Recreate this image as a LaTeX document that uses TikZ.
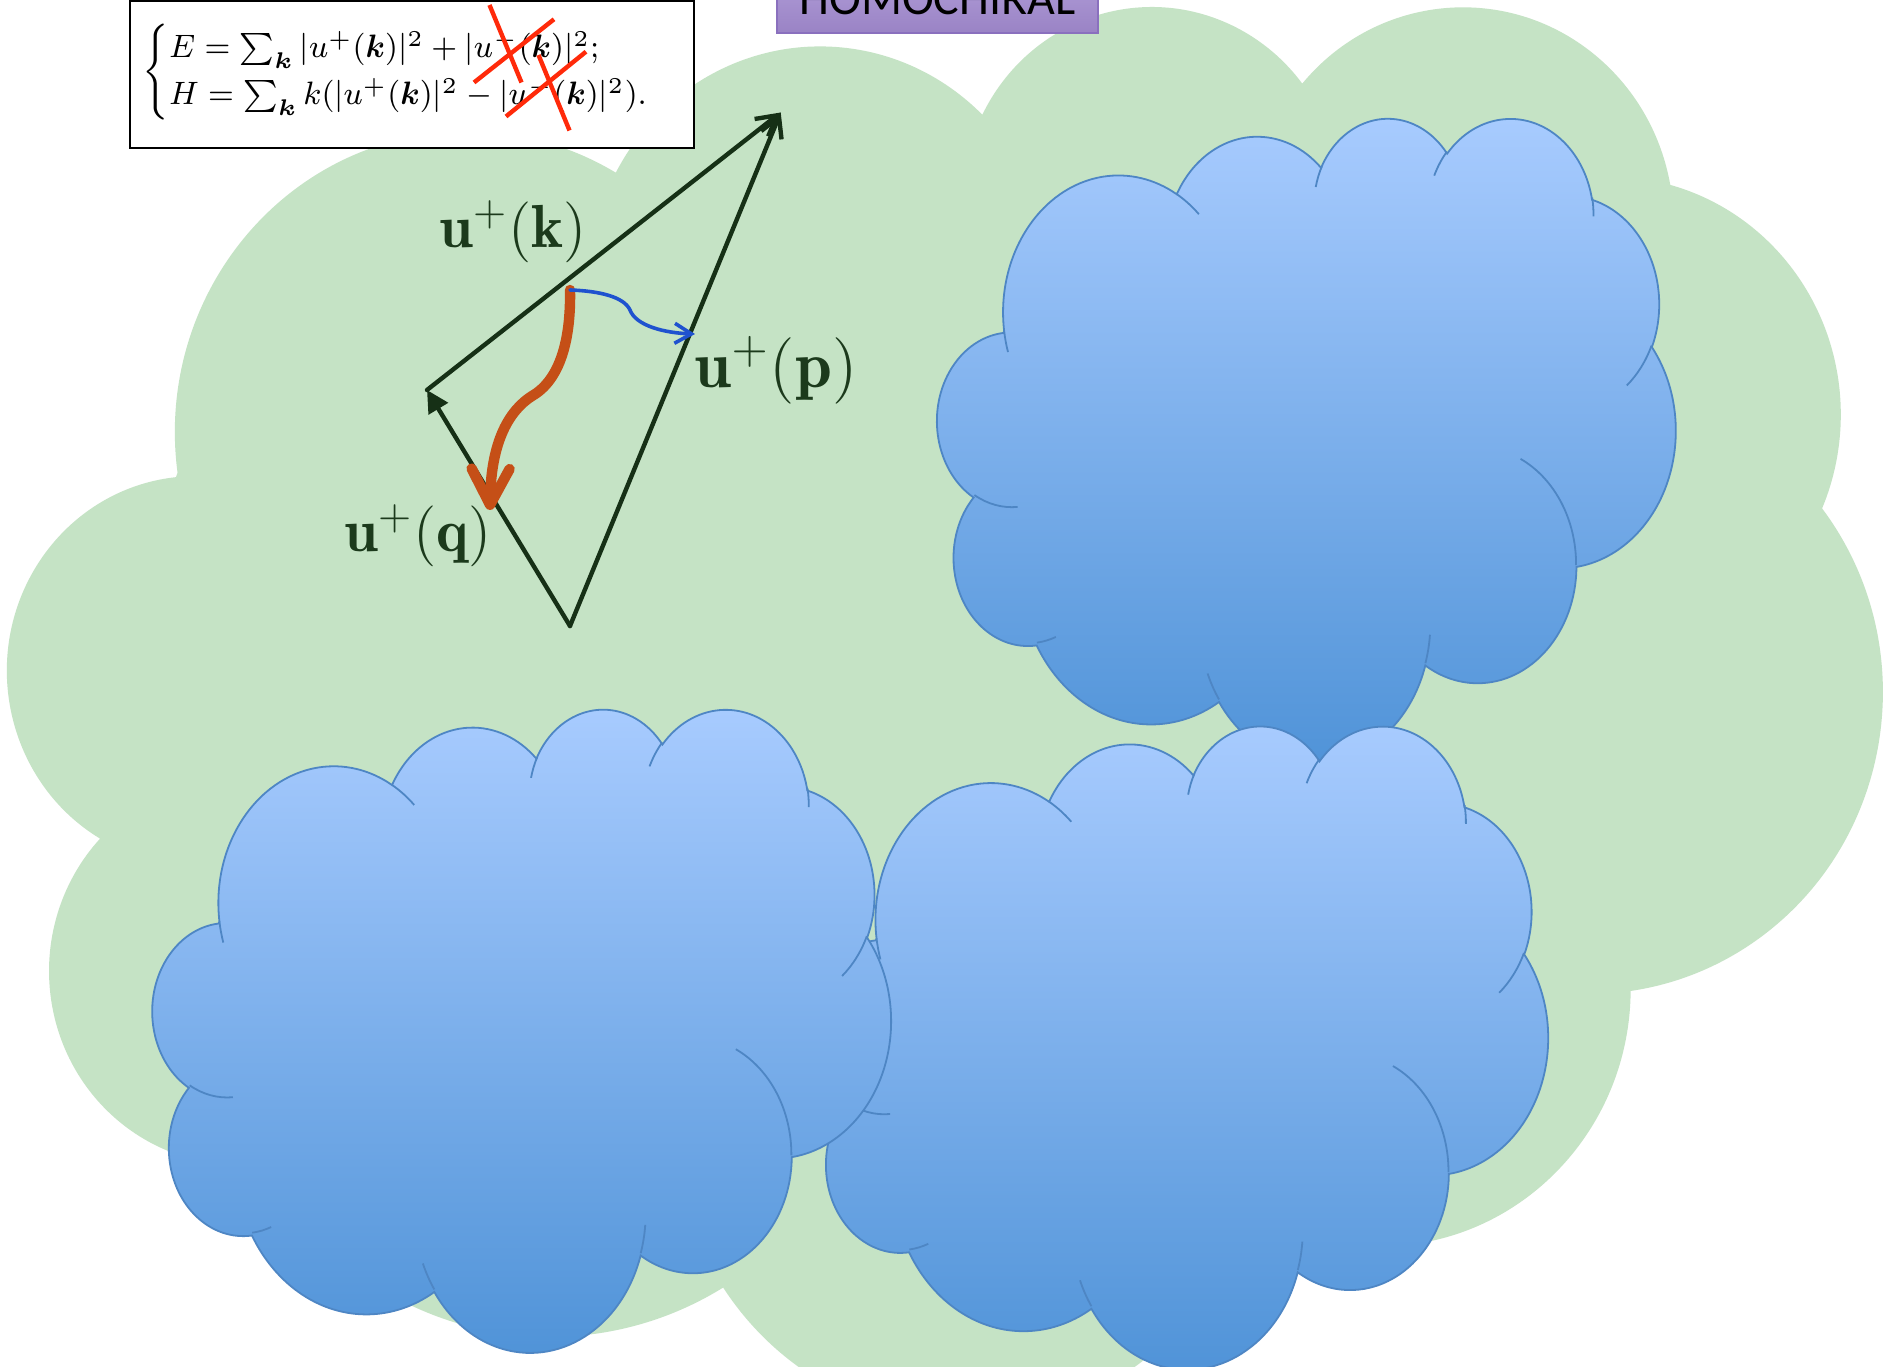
\RequirePackage{fix-cm}
\documentclass[tikz,border=0pt]{standalone}
\usepackage{amsmath}
\usepackage{fontspec}
\newfontfamily\carlito{Carlito}
\usetikzlibrary{arrows.meta}

\definecolor{cGreen}{HTML}{C5E3C5}
\definecolor{cTop}{HTML}{A9CCFF}
\definecolor{cBot}{HTML}{4E92D7}
\definecolor{cOut}{HTML}{4E86C4}
\definecolor{triC}{HTML}{163016}
\definecolor{labC}{HTML}{1C3A1C}
\definecolor{blueA}{HTML}{1F52CF}
\definecolor{orangeA}{HTML}{C54F17}
\definecolor{redC}{HTML}{FF2A0A}
\definecolor{purTop}{HTML}{B7A5DE}
\definecolor{purBot}{HTML}{9A83C5}
\definecolor{purLine}{HTML}{8A70BE}

% DrawingML arcTo: convert visual angles to parametric angles
\newcommand\mkarc[5]{%
  \pgfmathsetmacro\tmpS{atan2((#2)*sin(#4),(#3)*cos(#4))}%
  \pgfmathsetmacro\tmpE{atan2((#2)*sin((#4)+(#5)),(#3)*cos((#4)+(#5)))}%
  \pgfmathsetmacro\tmpD{\tmpE-\tmpS}%
  \pgfmathsetmacro\tmpD{\tmpD<0?\tmpD+360:\tmpD}%
  \expandafter\xdef\csname cS#1\endcsname{\tmpS}%
  \expandafter\xdef\csname cD#1\endcsname{\tmpD}%
}
\mkarc{A}{67.53}{91.90}{-190.4875}{123.7805}
\mkarc{B}{53.33}{72.67}{-144.1024}{89.9452}
\mkarc{C}{43.65}{59.45}{-145.8079}{99.7230}
\mkarc{D}{48.57}{65.95}{-130.9861}{117.2417}
\mkarc{E}{53.33}{72.73}{-78.7089}{109.0269}
\mkarc{F}{67.75}{92.20}{-46.2673}{130.2690}
\mkarc{G}{57.85}{78.67}{0.6250}{114.0333}
\mkarc{H}{67.52}{92.15}{22.4516}{115.1726}
\mkarc{I}{77.20}{105.43}{66.2426}{75.7110}
\mkarc{J}{43.60}{59.18}{-274.9421}{146.7356}
\mkarc{K}{43.45}{59.45}{-246.8285}{152.5189}
\mkarc{a}{43.45}{59.45}{86.7420}{26.4295}
\mkarc{b}{43.60}{59.18}{73.6105}{11.4475}
\mkarc{c}{67.52}{92.15}{137.6242}{14.0811}
\mkarc{d}{67.52}{92.15}{6.4533}{15.9984}
\mkarc{e}{57.85}{78.67}{-70.2924}{70.9174}
\mkarc{f}{53.33}{72.73}{30.3180}{27.7515}
\mkarc{g}{48.57}{65.95}{-13.7443}{14.8620}
\mkarc{h}{48.57}{65.95}{-149.1815}{18.1970}
\mkarc{i}{43.65}{59.45}{-163.4943}{17.6999}
\mkarc{j}{67.53}{91.90}{-66.7070}{12.3194}
\mkarc{k}{67.53}{91.90}{157.6544}{11.8582}

% #1 outline/fill options, #2 inner arc options, #3 left, #4 top, #5 width, #6 height (pixels)
\newcommand\pptcloud[6]{%
  \pgfmathsetmacro\cux{(#5)*0.25/432}%
  \pgfmathsetmacro\cuy{(#6)*0.25/432}%
  \begin{scope}[shift={(#3,#4)},x=\cux pt,y=-\cuy pt]
    \path[#1] (39.00,143.70)
      arc[x radius=67.53,y radius=91.90,start angle=\cSA,delta angle=\cDA]
      arc[x radius=53.33,y radius=72.67,start angle=\cSB,delta angle=\cDB]
      arc[x radius=43.65,y radius=59.45,start angle=\cSC,delta angle=\cDC]
      arc[x radius=48.57,y radius=65.95,start angle=\cSD,delta angle=\cDD]
      arc[x radius=53.33,y radius=72.73,start angle=\cSE,delta angle=\cDE]
      arc[x radius=67.75,y radius=92.20,start angle=\cSF,delta angle=\cDF]
      arc[x radius=57.85,y radius=78.67,start angle=\cSG,delta angle=\cDG]
      arc[x radius=67.52,y radius=92.15,start angle=\cSH,delta angle=\cDH]
      arc[x radius=77.20,y radius=105.43,start angle=\cSI,delta angle=\cDI]
      arc[x radius=43.60,y radius=59.18,start angle=\cSJ,delta angle=\cDJ]
      arc[x radius=43.45,y radius=59.45,start angle=\cSK,delta angle=\cDK]
      -- cycle;
    \path[#2]
      (46.93,261.77) arc[x radius=43.45,y radius=59.45,start angle=\cSa,delta angle=\cDa]
      (69.28,348.99) arc[x radius=43.60,y radius=59.18,start angle=\cSb,delta angle=\cDb]
      (164.78,390.90) arc[x radius=67.52,y radius=92.15,start angle=\cSc,delta angle=\cDc]
      (288.27,347.51) arc[x radius=67.52,y radius=92.15,start angle=\cSd,delta angle=\cDd]
      (341.29,229.54) arc[x radius=57.85,y radius=78.67,start angle=\cSe,delta angle=\cDe]
      (417.98,153.54) arc[x radius=53.33,y radius=72.73,start angle=\cSf,delta angle=\cDf]
      (383.24,54.26) arc[x radius=48.57,y radius=65.95,start angle=\cSg,delta angle=\cDg]
      (290.78,39.52) arc[x radius=48.57,y radius=65.95,start angle=\cSh,delta angle=\cDh]
      (221.41,47.20) arc[x radius=43.65,y radius=59.45,start angle=\cSi,delta angle=\cDi]
      (140.00,51.92) arc[x radius=67.53,y radius=91.90,start angle=\cSj,delta angle=\cDj]
      (41.27,157.89) arc[x radius=67.53,y radius=91.90,start angle=\cSk,delta angle=\cDk];
  \end{scope}}

\tikzset{
  bluecloud/.style={top color=cTop,bottom color=cBot,draw=cOut,line width=0.45pt},
  cloudinner/.style={draw=cOut,line width=0.45pt},
  tri/.style={draw=triC,line width=1.1pt,line cap=round,line join=round},
  lbl/.style={text=labC,inner sep=0pt},
  redx/.style={draw=redC,line width=1.1pt},
}

\begin{document}
\begin{tikzpicture}[x=0.25pt,y=-0.25pt]
\useasboundingbox (0,0) rectangle (1887,1367);
\clip (0,0) rectangle (1887,1367);
\fill[white] (0,0) rectangle (1887,1367);

% big green cloud
\pptcloud{fill=cGreen}{draw=none}{8.4}{2.4}{1873.7}{1414}
% blue clouds
\pptcloud{bluecloud}{cloudinner}{937.5}{116.7}{738}{644}
\pptcloud{bluecloud}{cloudinner}{809.9}{724.4}{738}{643}
\pptcloud{bluecloud}{cloudinner}{152.8}{707.6}{738}{643}

% equation box
\draw[line width=0.6pt,fill=white] (130,1) rectangle (694,148);
\node[anchor=west,inner sep=0pt,xscale=0.965,transform shape,font=\fontsize{8.1}{9.8}\selectfont] (eq) at (142,72)
  {$\begin{cases}
    E=\sum_{\boldsymbol k}|u^{+}(\boldsymbol k)|^2+|u^{-}(\boldsymbol k)|^2;\\
    H=\sum_{\boldsymbol k}k(|u^{+}(\boldsymbol k)|^2-|u^{-}(\boldsymbol k)|^2).
  \end{cases}$};
% red crosses
\draw[redx] (489.5,5) -- (521.5,82.5);
\draw[redx] (474,82.5) -- (554,19.3);
\draw[redx] (538.5,55) -- (569.5,130.5);
\draw[redx] (506,116.5) -- (586,51.7);

% HOMOCHIRAL label
\path[top color=purTop,bottom color=purBot,draw=purLine,line width=0.4pt] (777,-45) rectangle (1098,33);
\node[anchor=base,inner sep=0pt,font=\carlito\fontsize{12}{14}\selectfont] (homo) at (937.5,15) {HOMOCHIRAL};

% triangle of wave vectors
\coordinate (T) at (780.7,112.5);
\coordinate (Lv) at (427,390);
\coordinate (B) at (570,626);
\draw[tri,-{Straight Barb[length=5pt,width=5.5pt]}] (Lv) -- (T);
\draw[tri,-{Straight Barb[length=5pt,width=5.5pt]}] (B) -- (T);
\draw[tri,-{Triangle[length=5.5pt,width=5.5pt]}] (B) -- (Lv);

% labels
\node[lbl,anchor=base,font=\fontsize{15.2}{17}\selectfont] (lk) at (513,248) {$\mathbf{u}^{+}(\mathbf{k})$};
\node[lbl,anchor=base,font=\fontsize{16.6}{18}\selectfont] (lp) at (776,388) {$\mathbf{u}^{+}(\mathbf{p})$};
\node[lbl,anchor=base,font=\fontsize{15.2}{17}\selectfont] (lq) at (418,552) {$\mathbf{u}^{+}(\mathbf{q})$};

% transfer arrows
\coordinate (oS) at (570,290);
\coordinate (oE) at (490,510);
\coordinate (bE) at (695,334);
\draw[draw=orangeA,line width=2.6pt,line cap=round,line join=round,
  -{Straight Barb[length=9pt,width=9.5pt,round]}]
  (oS) .. controls (571,340) and (560,380) .. (532,396)
       .. controls (510,410) and (491,440) .. (oE);
\draw[draw=blueA,line width=0.9pt,line cap=round,
  -{Straight Barb[length=4.2pt,width=5pt]}]
  (oS) .. controls (600,291) and (624,297) .. (630,310)
       .. controls (636,326) and (665,333) .. (bE);
\end{tikzpicture}
\end{document}
